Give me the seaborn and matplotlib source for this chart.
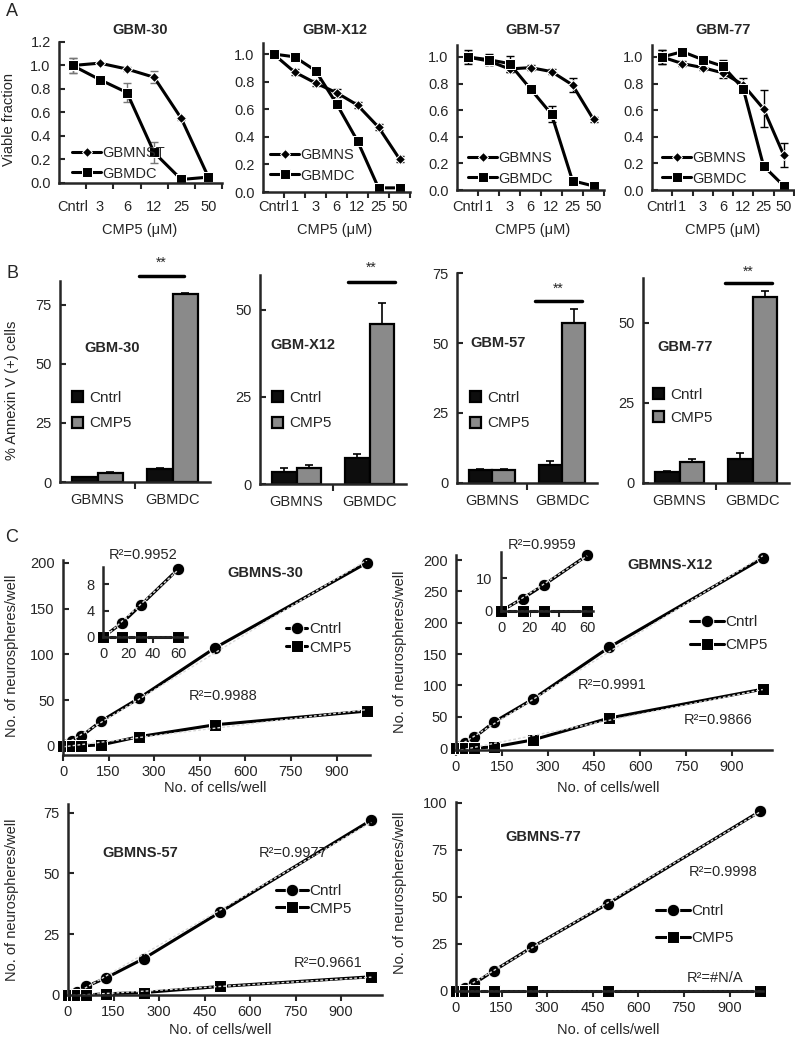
"""
CMP5 on GBM neurospheres: viability (A), annexin V (B), neurosphere counts (C)
"""

import numpy as np
import pandas as pd
import seaborn as sns
import matplotlib.pyplot as plt

W, H = 795, 1038

# ---- A: viable fraction vs CMP5 dose
doses_30 = ['Cntrl', '3', '6', '12', '25', '50']
doses = ['Cntrl', '1', '3', '6', '12', '25', '50']

gbm30_ns = [1.00, 1.02, 0.97, 0.90, 0.55, 0.05]
gbm30_dc = [1.00, 0.88, 0.77, 0.26, 0.03, 0.05]
gbm30_ns_err = [0.06, 0.0, 0.02, 0.05, 0.01, 0.0]
gbm30_dc_err = [0.06, 0.0, 0.08, 0.09, 0.0, 0.0]

x12_ns = [1.00, 0.87, 0.79, 0.72, 0.63, 0.47, 0.24]
x12_dc = [1.00, 0.98, 0.88, 0.64, 0.37, 0.03, 0.03]
x12_ns_err = [0.02, 0.02, 0.02, 0.03, 0.02, 0.02, 0.02]
x12_dc_err = [0.02, 0.02, 0.02, 0.02, 0.02, 0.0, 0.02]

gbm57_ns = [1.00, 0.97, 0.91, 0.92, 0.89, 0.79, 0.53]
gbm57_dc = [1.00, 0.98, 0.95, 0.76, 0.57, 0.07, 0.03]
gbm57_ns_err = [0.04, 0.03, 0.02, 0.02, 0.02, 0.05, 0.02]
gbm57_dc_err = [0.05, 0.04, 0.06, 0.02, 0.06, 0.02, 0.02]

gbm77_ns = [1.00, 0.95, 0.92, 0.88, 0.79, 0.61, 0.26]
gbm77_dc = [1.00, 1.04, 0.98, 0.93, 0.76, 0.18, 0.03]
gbm77_ns_err = [0.05, 0.02, 0.02, 0.04, 0.05, 0.14, 0.09]
gbm77_dc_err = [0.05, 0.02, 0.02, 0.05, 0.02, 0.02, 0.02]

# ---- B: % annexin V (+) cells
groups = ['GBMNS', 'GBMDC']
b30_cntrl, b30_cmp5 = [2.0, 5.5], [4.0, 79.5]
b30_cntrl_err, b30_cmp5_err = [0.3, 0.4], [0.4, 0.5]
bx12_cntrl, bx12_cmp5 = [3.5, 7.5], [4.5, 46.0]
bx12_cntrl_err, bx12_cmp5_err = [1.0, 1.0], [1.0, 6.0]
b57_cntrl, b57_cmp5 = [4.5, 6.5], [4.5, 57.0]
b57_cntrl_err, b57_cmp5_err = [0.5, 1.2], [0.5, 5.0]
b77_cntrl, b77_cmp5 = [3.5, 7.5], [6.5, 58.0]
b77_cntrl_err, b77_cmp5_err = [0.3, 2.0], [1.0, 2.0]

# ---- C: neurospheres per well vs cells per well
cells = [0, 15, 30, 60, 125, 250, 500, 1000]
ns30_cntrl = [0, 2.1, 4.8, 10.3, 27, 52, 107, 200]
ns30_cmp5 = [0, 0, 0, 0, 1, 10, 23, 38]
nsx12_cntrl = [0, 3.8, 8, 17, 42, 78, 161, 303]
nsx12_cmp5 = [0, 0, 0, 0, 2, 13, 48, 94]
ns57_cntrl = [0, 0.5, 1.2, 3.5, 7, 15, 34, 72]
ns57_cmp5 = [0, 0, 0, 0, 0.5, 1, 3.5, 7.5]
ns77_cntrl = [0, 0.5, 1.5, 4, 10.8, 23.3, 46.5, 95.5]
ns77_cmp5 = [0, 0, 0, 0, 0, 0, 0, 0]

sns.set_theme(style='ticks')
plt.rcParams['font.family'] = ['Liberation Sans', 'DejaVu Sans']
plt.rcParams['font.size'] = 10
plt.rcParams['axes.linewidth'] = 1.8

fig = plt.figure(figsize=(W / 100, H / 100), dpi=100)


def frect(l, t, r, b):
    return [l / W, 1 - b / H, (r - l) / W, (b - t) / H]


def fpos(x, y):
    return (x / W, 1 - y / H)


def ftext(x, y, s, **kw):
    kw.setdefault('ha', 'center')
    kw.setdefault('va', 'center')
    kw.setdefault('fontsize', 10)
    fig.text(x / W, 1 - y / H, s, **kw)


def dose_panel(rect, labels, ns, dc, ns_err, dc_err, ns_name, ymax, yticks, leg, ecol, pad):
    ax = fig.add_axes(frect(*rect))
    n = len(labels)
    pos = np.arange(n)
    df = pd.DataFrame({'pos': np.r_[pos, pos], 'frac': ns + dc,
                       'line': [ns_name] * n + ['GBMDC'] * n})
    ax.errorbar(pos, ns, yerr=ns_err, fmt='none', ecolor=ecol, elinewidth=1, capsize=3, zorder=1)
    ax.errorbar(pos, dc, yerr=dc_err, fmt='none', ecolor=ecol, elinewidth=1, capsize=3, zorder=1)
    sns.lineplot(data=df[df.line == ns_name], x='pos', y='frac', color='black', lw=2.2,
                 marker='D', markersize=5, label=ns_name, ax=ax)
    sns.lineplot(data=df[df.line == 'GBMDC'], x='pos', y='frac', color='black', lw=2.2,
                 marker='s', markersize=7, label='GBMDC', ax=ax)
    ax.set_xlim(-0.5, n - 0.5)
    ax.set_ylim(0, ymax)
    ax.set_xticks(pos)
    ax.set_xticklabels(labels)
    ax.set_xticks(pos + 0.5, minor=True)
    ax.tick_params(axis='x', which='major', length=0, pad=pad, labelsize=10.5)
    ax.tick_params(axis='x', which='minor', length=4, width=1.5, direction='out')
    ax.set_yticks(yticks)
    ax.set_yticklabels([f'{v:.1f}' for v in yticks])
    ax.tick_params(axis='y', direction='in', length=4, width=1.5, pad=6, labelsize=10.5)
    ax.set_xlabel('')
    ax.set_ylabel('')
    sns.despine(ax=ax)
    ax.legend(loc='upper left', bbox_to_anchor=fpos(*leg), bbox_transform=fig.transFigure,
              frameon=False, handlelength=2.0, handletextpad=0.1, borderpad=0,
              borderaxespad=0, labelspacing=0.45, fontsize=10.5)
    return ax


def bar_panel(rect, cntrl, cmp5, cntrl_err, cmp5_err, ymax, yticks, sig, leg, leg_space):
    ax = fig.add_axes(frect(*rect))
    df = pd.DataFrame({'group': groups * 2, 'treat': ['Cntrl'] * 2 + ['CMP5'] * 2,
                       'pct': cntrl + cmp5})
    sns.barplot(data=df, x='group', y='pct', hue='treat',
                palette={'Cntrl': '#0d0d0d', 'CMP5': '#8a8a8a'}, width=0.67,
                edgecolor='black', linewidth=1.6, errorbar=None, ax=ax)
    for patch, e in zip(ax.patches[:4], cntrl_err + cmp5_err):
        cx = patch.get_x() + patch.get_width() / 2
        ax.errorbar(cx, patch.get_height(), yerr=[[0], [e]], fmt='none', ecolor='black',
                    elinewidth=1.2, capsize=3, capthick=1.2)
    x0, x1, yl, ys = sig
    ax.plot([x0, x1], [yl, yl], color='black', lw=2.5, clip_on=False)
    ax.text((x0 + x1) / 2, ys, '**', ha='center', va='center', fontsize=10)
    ax.set_xlim(-0.5, 1.5)
    ax.set_ylim(0, ymax)
    ax.set_yticks(yticks)
    ax.set_xticks([0, 1])
    ax.set_xticks([0.5], minor=True)
    ax.tick_params(axis='x', which='major', length=0, pad=8, labelsize=10.5)
    ax.tick_params(axis='x', which='minor', length=5, width=1.5, direction='out')
    ax.tick_params(axis='y', direction='in', length=4, width=1.5, pad=6, labelsize=10.5)
    ax.set_xlabel('')
    ax.set_ylabel('')
    sns.despine(ax=ax)
    h, l = ax.get_legend_handles_labels()
    ax.legend(h, l, loc='upper left', bbox_to_anchor=fpos(*leg), bbox_transform=fig.transFigure,
              frameon=False, handlelength=0.7, handleheight=0.75, handletextpad=0.4,
              borderpad=0, borderaxespad=0, labelspacing=leg_space, fontsize=11)
    return ax


def count_panel(rect, cntrl, cmp5, xlim, ylim, yticks, leg, hlen, leg_space, yticklabels=None):
    ax = fig.add_axes(frect(*rect))
    df = pd.DataFrame({'cells': cells * 2, 'spheres': cntrl + cmp5,
                       'treat': ['Cntrl'] * len(cells) + ['CMP5'] * len(cells)})
    for treat, mk in [('Cntrl', 'o'), ('CMP5', 's')]:
        sub = df[df.treat == treat]
        sns.lineplot(data=sub, x='cells', y='spheres', color='black', lw=2.2, marker=mk,
                     markersize=9, label=treat, clip_on=False, ax=ax)
        sns.regplot(data=sub, x='cells', y='spheres', scatter=False, ci=None, ax=ax,
                    line_kws=dict(color='#d9d9d9', lw=1.0, ls=(0, (2, 1.5))))
    ax.set_xlim(*xlim)
    ax.set_ylim(*ylim)
    ax.set_xticks(np.arange(0, 901, 150))
    ax.set_yticks(yticks)
    if yticklabels is not None:
        ax.set_yticklabels(yticklabels)
    ax.tick_params(axis='x', direction='out', length=4, width=1.5, labelsize=10.5)
    ax.tick_params(axis='y', direction='in', length=4, width=1.5, pad=6, labelsize=10.5)
    ax.set_xlabel('')
    ax.set_ylabel('')
    sns.despine(ax=ax)
    ax.legend(loc='upper left', bbox_to_anchor=fpos(*leg), bbox_transform=fig.transFigure,
              frameon=False, handlelength=hlen, handletextpad=0.1, borderpad=0,
              borderaxespad=0, labelspacing=leg_space, fontsize=11)
    return ax


def inset_panel(rect, cntrl, cmp5, xlim, ylim, yticks):
    ax = fig.add_axes(frect(*rect))
    ax.set_facecolor('none')
    x4 = cells[:4]
    df = pd.DataFrame({'cells': x4 * 2, 'spheres': cntrl[:4] + cmp5[:4],
                       'treat': ['Cntrl'] * 4 + ['CMP5'] * 4})
    for treat, mk in [('Cntrl', 'o'), ('CMP5', 's')]:
        sub = df[df.treat == treat]
        sns.lineplot(data=sub, x='cells', y='spheres', color='black', lw=2.2, marker=mk,
                     markersize=9, clip_on=False, ax=ax, legend=False)
        sns.regplot(data=sub, x='cells', y='spheres', scatter=False, ci=None, ax=ax,
                    line_kws=dict(color='#d9d9d9', lw=1.0, ls=(0, (2, 1.5))))
    ax.set_xlim(*xlim)
    ax.set_ylim(*ylim)
    ax.set_xticks([0, 20, 40, 60])
    ax.set_yticks(yticks)
    ax.tick_params(axis='x', direction='out', length=4, width=1.5, labelsize=10.5)
    ax.tick_params(axis='y', direction='in', length=4, width=1.5, pad=6, labelsize=10.5)
    ax.set_xlabel('')
    ax.set_ylabel('')
    sns.despine(ax=ax)
    return ax


# ---------------- A
yt12 = [0.0, 0.2, 0.4, 0.6, 0.8, 1.0, 1.2]
yt10 = [0.0, 0.2, 0.4, 0.6, 0.8, 1.0]
dose_panel((59, 42, 222, 183), doses_30, gbm30_ns, gbm30_dc, gbm30_ns_err, gbm30_dc_err,
           'GBMNST', 1.2, yt12, (72, 146), '#777777', 12)
dose_panel((263, 43, 410, 192), doses, x12_ns, x12_dc, x12_ns_err, x12_dc_err,
           'GBMNS', 1.08, yt10, (270, 148), 'black', 6)
dose_panel((457, 45, 604, 190), doses, gbm57_ns, gbm57_dc, gbm57_ns_err, gbm57_dc_err,
           'GBMNS', 1.09, yt10, (468, 151), 'black', 7)
dose_panel((652, 45, 794, 190), doses, gbm77_ns, gbm77_dc, gbm77_ns_err, gbm77_dc_err,
           'GBMNS', 1.09, yt10, (662, 151), 'black', 7)

for x, t in [(140, 'GBM-30'), (335, 'GBM-X12'), (533, 'GBM-57'), (723, 'GBM-77')]:
    ftext(x, 30, t, fontweight='bold', fontsize=10.5)
    ftext(x, 230, 'CMP5 (μM)', fontsize=10.5)
ftext(9, 120, 'Viable fraction', rotation=90, fontsize=10.5)

# ---------------- B
bar_panel((60, 281, 210, 482), b30_cntrl, b30_cmp5, b30_cntrl_err, b30_cmp5_err,
          85, [0, 25, 50, 75], (0.55, 1.15, 87, 92.5), (72, 391), 0.75)
bar_panel((260, 275, 406, 484), bx12_cntrl, bx12_cmp5, bx12_cntrl_err, bx12_cmp5_err,
          60, [0, 25, 50], (0.70, 1.35, 58, 62), (272, 391), 0.75)
bar_panel((457, 273, 597, 483), b57_cntrl, b57_cmp5, b57_cntrl_err, b57_cmp5_err,
          75, [0, 25, 50, 75], (0.61, 1.29, 65, 69.5), (470, 391), 0.75)
bar_panel((643, 278, 789, 483), b77_cntrl, b77_cmp5, b77_cntrl_err, b77_cmp5_err,
          64, [0, 25, 50], (0.62, 1.27, 62.5, 65.8), (653, 388), 0.6)

for x, y, t in [(112, 348, 'GBM-30'), (303, 345, 'GBM-X12'), (498, 343, 'GBM-57'),
                (685, 347, 'GBM-77')]:
    ftext(x, y, t, fontweight='bold', fontsize=10.5)
ftext(12, 390, '% Annexin V (+) cells', rotation=90, fontsize=10.5)

# ---------------- C
count_panel((63, 560, 370, 755), ns30_cntrl, ns30_cmp5, (0, 1010), (-10, 203),
            [0, 50, 100, 150, 200], (286, 622), 1.4, 0.3)
inset_panel((103, 567, 187, 637), ns30_cntrl, ns30_cmp5, (0, 67), (0, 10.6), [0, 4, 8])
count_panel((456, 555, 772, 750), nsx12_cntrl, nsx12_cmp5, (0, 1030), (-3, 308),
            [0, 50, 100, 150, 200, 250, 300], (690, 615), 2.2, 0.6,
            ['0', '50', '100', '150', '200', '250', '200'])
inset_panel((501, 552, 593, 611), nsx12_cntrl, nsx12_cmp5, (0, 64), (0, 18), [0, 10])
count_panel((68, 804, 382, 995), ns57_cntrl, ns57_cmp5, (0, 1035), (0, 78.6),
            [0, 25, 50, 75], (276, 884), 2.1, 0.25)
count_panel((456, 802, 763, 991), ns77_cntrl, ns77_cmp5, (0, 1010), (0, 100.5),
            [0, 25, 50, 75, 100], (656, 904), 2.2, 0.85)

ftext(265, 573, 'GBMNS-30', fontweight='bold', fontsize=10.5)
ftext(670, 565, 'GBMNS-X12', fontweight='bold', fontsize=10.5)
ftext(140, 853, 'GBMNS-57', fontweight='bold', fontsize=10.5)
ftext(543, 837, 'GBMNS-77', fontweight='bold', fontsize=10.5)

for x, y, t in [(143, 555, 'R²=0.9952'), (223, 696, 'R²=0.9988'),
                (542, 545, 'R²=0.9959'), (612, 685, 'R²=0.9991'), (718, 720, 'R²=0.9866'),
                (293, 853, 'R²=0.9977'), (328, 963, 'R²=0.9661'),
                (723, 872, 'R²=0.9998'), (715, 978, 'R²=#N/A')]:
    ftext(x, y, t, fontsize=10.5)

for x, y in [(12, 656), (12, 900), (400, 652), (400, 893)]:
    ftext(x, y, 'No. of neurospheres/well', rotation=90, fontsize=10.5)
for x, y in [(215, 788), (608, 788), (220, 1030), (608, 1030)]:
    ftext(x, y, 'No. of cells/well', fontsize=10.5)

ftext(12, 12, 'A', fontsize=13)
ftext(12, 273, 'B', fontsize=13)
ftext(12, 537, 'C', fontsize=13)

fig.savefig('out.png', dpi=100)
